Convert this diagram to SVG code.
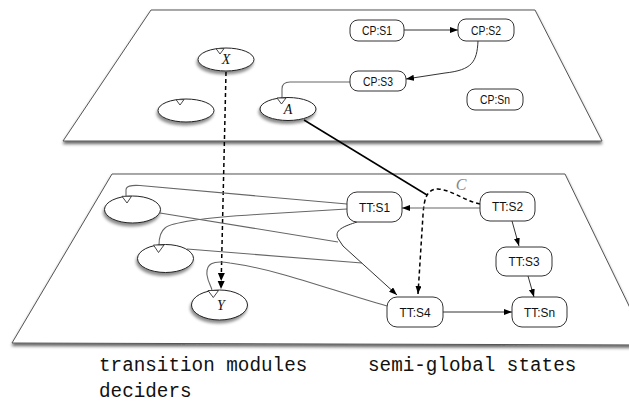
<svg xmlns="http://www.w3.org/2000/svg" width="629" height="404" viewBox="0 0 629 404">
<style>
.plane{fill:#fff;stroke:#555;stroke-width:1;stroke-linejoin:round;filter:url(#pshadow)}
.ell{fill:#fff;stroke:#222;stroke-width:1;filter:url(#eshadow)}
.notch{fill:#fff;stroke:#333;stroke-width:0.9;stroke-linejoin:miter}
.box{fill:#fff;stroke:#333;stroke-width:1}
.lbl{font-family:"Liberation Sans",Arial,sans-serif;font-size:12.5px;fill:#111;text-anchor:middle}
.var{font-family:"Liberation Serif","Times New Roman",serif;font-style:italic;font-size:14px;fill:#111;text-anchor:middle}
.edge{fill:none;stroke:#666;stroke-width:1.1}
.dark{fill:none;stroke:#333;stroke-width:1}
.dash{fill:none;stroke:#000;stroke-width:1.5;stroke-dasharray:4 3}
.cap{font-family:"Liberation Mono","Courier New",monospace;font-size:19.3px;fill:#111}
</style>
<defs>
<filter id="pshadow" x="-10%" y="-10%" width="120%" height="130%">
<feDropShadow dx="0" dy="2.5" stdDeviation="1.8" flood-color="#000" flood-opacity="0.6"/>
</filter>
<filter id="eshadow" x="-30%" y="-30%" width="160%" height="180%">
<feDropShadow dx="-1" dy="3" stdDeviation="1.8" flood-color="#000" flood-opacity="0.45"/>
</filter>
<marker id="arr" markerUnits="userSpaceOnUse" markerWidth="9" markerHeight="7" refX="8" refY="3" orient="auto">
<path d="M0,0 L8,3 L0,6 z" fill="#000"/>
</marker>
<marker id="arr2" markerUnits="userSpaceOnUse" markerWidth="17" markerHeight="8" refX="16" refY="3.5" orient="auto">
<path d="M0,0 L8,3.5 L0,7 z M8,0 L16,3.5 L8,7 z" fill="#000"/>
</marker>
</defs>

<g id="plane-top">
<path class="plane" d="M151,10 L535,10 L602,141 L63,141 Z"/>
</g>
<g id="plane-bottom">
<path class="plane" d="M112,174 L565,174 L648,345 L12,343 Z"/>
</g>

<g id="connectors">
<path class="dark" d="M404,30 L458,30" marker-end="url(#arr)"/>
<path class="dark" d="M478,41 C477,62 472,70 445,73 L406,79" marker-end="url(#arr)"/>
<path class="edge" d="M350,82 L290,82 Q282,82 282,89 L282,98"/>
<path fill="none" stroke="#000" stroke-width="1.5" d="M304,120 L427,195"/>
<path class="dash" d="M226,72 L221,289" marker-end="url(#arr2)"/>
<path class="dash" d="M480,204 C465,201 452,190 438,189 C426,189 424,200 423,215 L418,294" marker-end="url(#arr)"/>
<path class="edge" d="M480,208 L402,208" marker-end="url(#arr)"/>
<path class="edge" d="M347,204 L140,185.5 Q126,184.5 126,190 L126,196"/>
<path class="edge" d="M347,209 L260,214.3 C200,218 172,222 165,228 C160,232 159,238 159,245"/>
<path class="edge" d="M160,213 L338,242"/>
<path class="edge" d="M187,249 L362,263"/>
<path class="edge" d="M387,306 C330,290 280,270 230,263 C212,260 206,264 207,275 C208,282 211,286 212,290"/>
<path class="dark" d="M357,222 C345,226 332,230 339,240 Q341,243 343,246 L397,295" marker-end="url(#arr)"/>
<path class="dark" d="M512,221 L519,246" marker-end="url(#arr)"/>
<path class="dark" d="M528,276 L534,297" marker-end="url(#arr)"/>
<path class="dark" d="M443,312 L512,312" marker-end="url(#arr)"/>
</g>

<g id="label-C">
<text x="461" y="190" font-family="Liberation Serif,serif" font-style="italic" font-size="16px" fill="#888" text-anchor="middle">C</text>
</g>

<g id="node-X">
<ellipse class="ell" cx="226" cy="59.5" rx="28" ry="11.5"/>
<path class="notch" d="M216,48.6 L224,48.6 L220,54 Z"/>
<text class="var" x="226" y="63.5">X</text>
</g>
<g id="node-empty-top">
<ellipse class="ell" cx="186" cy="110.5" rx="28" ry="11.5"/>
<path class="notch" d="M176,99.6 L184,99.6 L180,105 Z"/>
</g>
<g id="node-A">
<ellipse class="ell" cx="288" cy="109" rx="28" ry="11.5"/>
<path class="notch" d="M277,98 L286,98 L281.5,104 Z"/>
<text class="var" x="288" y="114.3">A</text>
</g>

<g id="node-CPS1"><rect class="box" x="350" y="20" width="54" height="21" rx="8"/><text class="lbl" x="377" y="35" textLength="30" lengthAdjust="spacingAndGlyphs">CP:S1</text></g>
<g id="node-CPS2"><rect class="box" x="458" y="19" width="56" height="22" rx="8"/><text class="lbl" x="486" y="34.5" textLength="30" lengthAdjust="spacingAndGlyphs">CP:S2</text></g>
<g id="node-CPS3"><rect class="box" x="350" y="71" width="56" height="20" rx="8"/><text class="lbl" x="378" y="85.5" textLength="30" lengthAdjust="spacingAndGlyphs">CP:S3</text></g>
<g id="node-CPSn"><rect class="box" x="467" y="89" width="56" height="21" rx="8"/><text class="lbl" x="495" y="104" textLength="30" lengthAdjust="spacingAndGlyphs">CP:Sn</text></g>

<g id="node-E1">
<ellipse class="ell" cx="132.5" cy="209.5" rx="28" ry="13.5"/>
<path class="notch" d="M122,196.3 L131.5,196.3 L127,203 Z"/>
</g>
<g id="node-E2">
<ellipse class="ell" cx="165.5" cy="258.5" rx="28" ry="14"/>
<path class="notch" d="M153.5,245 L164,245 L158.5,252.5 Z"/>
</g>
<g id="node-Y">
<ellipse class="ell" cx="219.5" cy="305" rx="28" ry="15"/>
<path class="notch" d="M208,290.5 L218.5,290.5 L213.3,297.5 Z"/>
<text class="var" x="221" y="309.5">Y</text>
</g>

<g id="node-TTS1"><rect class="box" x="347" y="192" width="55" height="30" rx="10"/><text class="lbl" x="374.5" y="211.5" textLength="31" lengthAdjust="spacingAndGlyphs">TT:S1</text></g>
<g id="node-TTS2"><rect class="box" x="480" y="192" width="55" height="29" rx="10"/><text class="lbl" x="507.5" y="211" textLength="31" lengthAdjust="spacingAndGlyphs">TT:S2</text></g>
<g id="node-TTS3"><rect class="box" x="496" y="247" width="56" height="29" rx="10"/><text class="lbl" x="524" y="266" textLength="31" lengthAdjust="spacingAndGlyphs">TT:S3</text></g>
<g id="node-TTS4"><rect class="box" x="387" y="297" width="56" height="30" rx="10"/><text class="lbl" x="415" y="316.5" textLength="31" lengthAdjust="spacingAndGlyphs">TT:S4</text></g>
<g id="node-TTSn"><rect class="box" x="512" y="297" width="55" height="30" rx="10"/><text class="lbl" x="539.5" y="316.5" textLength="31" lengthAdjust="spacingAndGlyphs">TT:Sn</text></g>

<g id="captions">
<text class="cap" x="99" y="371">transition modules</text>
<text class="cap" x="368" y="371">semi-global states</text>
<text class="cap" x="99" y="397">deciders</text>
</g>
</svg>
